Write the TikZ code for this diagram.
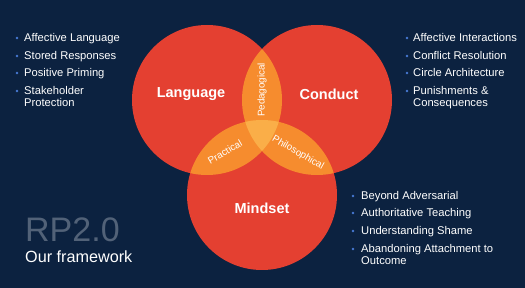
\documentclass[tikz,border=0pt]{standalone}
\usepackage{fontspec}
\setmainfont{Liberation Sans}
\definecolor{bg}{RGB}{12,34,64}
\definecolor{vred}{RGB}{228,64,49}
\definecolor{vorange}{RGB}{246,140,46}
\definecolor{vlight}{RGB}{250,174,72}
\definecolor{bul}{RGB}{72,122,212}
\definecolor{rpgrey}{RGB}{82,98,120}
\begin{document}
\begin{tikzpicture}[x=1pt,y=-1pt,
  vcircle/.style={circle,fill=vred,minimum size=150pt,inner sep=0pt},
  setlabel/.style={text=white,font=\fontsize{14.5}{16}\selectfont\bfseries,inner sep=0pt},
  lenslabel/.style={text=white,font=\fontsize{9.8}{11}\selectfont,inner sep=0pt},
  bdot/.style={circle,fill=bul,minimum size=2.6pt,inner sep=0pt},
  item/.style={text=white,font=\fontsize{11.2}{12}\selectfont,anchor=base west,inner sep=0pt,align=left}]
\fill[bg] (0,0) rectangle (525,288);
\useasboundingbox (0,0) rectangle (525,288);
% circles
\node[vcircle] (lang) at (207,100) {};
\node[vcircle] (cond) at (317,100) {};
\node[vcircle] (mind) at (262,195) {};
% pairwise overlaps
\begin{scope}
  \clip (207,100) circle (75pt);
  \fill[vorange] (317,100) circle (75pt);
  \fill[vorange] (262,195) circle (75pt);
\end{scope}
\begin{scope}
  \clip (317,100) circle (75pt);
  \fill[vorange] (262,195) circle (75pt);
\end{scope}
\begin{scope}
  \clip (207,100) circle (75pt);
  \clip (317,100) circle (75pt);
  \fill[vlight] (262,195) circle (75pt);
\end{scope}
% set labels
\node[setlabel] (tlang) at (191,94) {Language};
\node[setlabel] (tcond) at (329,94) {Conduct};
\node[setlabel] (tmind) at (262,208) {Mindset};
% lens labels
\node[lenslabel,rotate=90] (ped) at (262,90) {Pedagogical};
\node[lenslabel,rotate=30] (prac) at (225,152) {Practical};
\node[lenslabel,rotate=-30] (phil) at (298,153) {Philosophical};
% left list
\node[bdot] (lb1) at (17,38) {};
\node[item] (l1) at (24,42) {Affective Language};
\node[bdot] (lb2) at (17,56) {};
\node[item] (l2) at (24,60) {Stored Responses};
\node[bdot] (lb3) at (17,73) {};
\node[item] (l3) at (24,77) {Positive Priming};
\node[bdot] (lb4) at (17,91) {};
\node[item] (l4) at (24,107) {Stakeholder\\Protection};
% right list
\node[bdot] (rb1) at (407,38) {};
\node[item] (r1) at (413,42) {Affective Interactions};
\node[bdot] (rb2) at (407,56) {};
\node[item] (r2) at (413,60) {Conflict Resolution};
\node[bdot] (rb3) at (407,73) {};
\node[item] (r3) at (413,77) {Circle Architecture};
\node[bdot] (rb4) at (407,91) {};
\node[item] (r4) at (413,107) {Punishments \&\\Consequences};
% bottom right list
\node[bdot] (mb1) at (353,196) {};
\node[item] (m1) at (361,200) {Beyond Adversarial};
\node[bdot] (mb2) at (353,213) {};
\node[item] (m2) at (361,217) {Authoritative Teaching};
\node[bdot] (mb3) at (353,231) {};
\node[item] (m3) at (361,235) {Understanding Shame};
\node[bdot] (mb4) at (353,249) {};
\node[item] (m4) at (361,265) {Abandoning Attachment to\\Outcome};
% title
\node[anchor=base west,inner sep=0pt,text=rpgrey,font=\fontsize{34}{40}\selectfont] (rp) at (25,241.5) {RP2.0};
\node[anchor=base west,inner sep=0pt,text=white,font=\fontsize{16.2}{19}\selectfont] (fw) at (25,263) {Our framework};
\end{tikzpicture}
\end{document}
